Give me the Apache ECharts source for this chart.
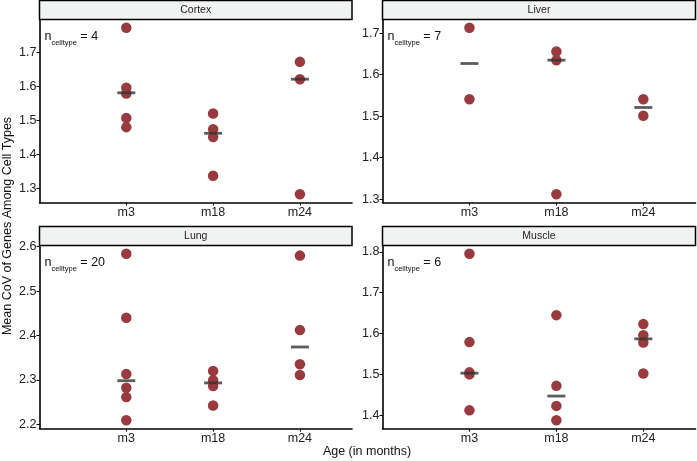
<!DOCTYPE html>
<html>
<head>
<meta charset="utf-8">
<script src="https://cdn.jsdelivr.net/npm/echarts@6/dist/echarts.min.js"></script>
<style>
  html, body { margin: 0; padding: 0; background: #fff; }
  #chart { width: 697px; height: 461px; }
</style>
</head>
<body>
<div id="chart"></div>
<script>
// ages on the x axis
const categories = ['m3', 'm18', 'm24'];
const tissues = ['Cortex', 'Liver', 'Lung', 'Muscle'];
const nCelltype = [4, 7, 20, 6];

// per-age values (mean CoV) for each tissue
const cortexValues = [[1.773, 1.597, 1.580, 1.508, 1.481], [1.521, 1.475, 1.452, 1.338], [1.673, 1.622, 1.284]];
const liverValues = [[1.713, 1.541], [1.656, 1.635, 1.312], [1.541, 1.501]];
const lungValues = [[2.584, 2.440, 2.313, 2.282, 2.261, 2.209], [2.320, 2.299, 2.286, 2.242], [2.580, 2.412, 2.335, 2.311]];
const muscleValues = [[1.795, 1.579, 1.505, 1.500, 1.412], [1.645, 1.472, 1.423, 1.388], [1.623, 1.596, 1.578, 1.502]];

// horizontal bars (median per age)
const cortexMedian = [1.582, 1.463, 1.622];
const liverMedian = [1.627, 1.635, 1.521];
const lungMedian = [2.298, 2.293, 2.374];
const muscleMedian = [1.503, 1.447, 1.587];

// y tick labels per panel
const cortexTicks = [1.3, 1.4, 1.5, 1.6, 1.7];
const liverTicks = [1.3, 1.4, 1.5, 1.6, 1.7];
const lungTicks = [2.2, 2.3, 2.4, 2.5, 2.6];
const muscleTicks = [1.4, 1.5, 1.6, 1.7, 1.8];

const panelValues = [cortexValues, liverValues, lungValues, muscleValues];
const panelMedians = [cortexMedian, liverMedian, lungMedian, muscleMedian];
const panelTicks = [cortexTicks, liverTicks, lungTicks, muscleTicks];

const pointColor = '#983a3e';
const font = '"Liberation Sans", Arial, sans-serif';

const grids = [
  { left: 39.5, top: 19.5, width: 312.5, height: 183 },
  { left: 382.5, top: 19.5, width: 313, height: 183 },
  { left: 39.5, top: 245.5, width: 312.5, height: 183 },
  { left: 382.5, top: 245.5, width: 313, height: 183 }
];

const myChart = echarts.init(document.getElementById('chart'));

const xAxes = [], yAxes = [], series = [], graphics = [];

grids.forEach((g, i) => {
  const vals = panelValues[i];
  const all = vals.flat().concat(panelMedians[i]);
  const lo = Math.min(...all), hi = Math.max(...all);
  const pad = (hi - lo) * 0.05;

  xAxes.push({
    type: 'value', gridIndex: i, min: 0, max: 3.6,
    axisLine: { lineStyle: { color: '#000', width: 1.6 } },
    axisTick: { customValues: [1, 2, 3], length: 3, lineStyle: { color: '#000', width: 1 } },
    axisLabel: {
      customValues: [1, 2, 3], margin: 4, color: '#222', fontSize: 12.5, fontFamily: font,
      formatter: (v) => categories[Math.round(v) - 1] || ''
    },
    splitLine: { show: false }
  });
  yAxes.push({
    type: 'value', gridIndex: i, min: lo - pad, max: hi + pad,
    axisLine: { show: true, lineStyle: { color: '#000', width: 1.6 } },
    axisTick: { show: true, customValues: panelTicks[i], length: 3, lineStyle: { color: '#000', width: 1 } },
    axisLabel: {
      customValues: panelTicks[i], margin: 3, color: '#222', fontSize: 12.5, fontFamily: font,
      formatter: (v) => v.toFixed(1)
    },
    splitLine: { show: false }
  });

  const pts = [];
  vals.forEach((arr, k) => arr.forEach((v) => pts.push([k + 1, v])));
  series.push({
    type: 'scatter', xAxisIndex: i, yAxisIndex: i, data: pts,
    symbolSize: 10.5, itemStyle: { color: pointColor, opacity: 1 }, z: 2, silent: true
  });
  series.push({
    type: 'scatter', xAxisIndex: i, yAxisIndex: i,
    data: panelMedians[i].map((v, k) => [k + 1, v]),
    symbol: 'rect', symbolSize: [18, 2.8], itemStyle: { color: '#333' }, z: 3, silent: true
  });

  // facet strip
  const stripTop = g.top - 19;
  graphics.push({
    type: 'rect', shape: { x: g.left, y: stripTop, width: g.width, height: 19 },
    style: { fill: '#f1f2f2', stroke: '#000', lineWidth: 1.5 }, z: 10
  });
  graphics.push({
    type: 'text', x: g.left + g.width / 2, y: stripTop + 10,
    style: { text: tissues[i], fontSize: 10.5, fontFamily: font, fill: '#222', align: 'center', verticalAlign: 'middle' },
    z: 11
  });
  // n celltype label
  graphics.push({
    type: 'text', x: g.left + 5, y: g.top + 17,
    style: {
      text: '{a|n}{b|celltype}{a| = ' + nCelltype[i] + '}',
      verticalAlign: 'middle',
      rich: {
        a: { fontSize: 12.5, fontFamily: font, fill: '#111', lineHeight: 14, verticalAlign: 'bottom' },
        b: { fontSize: 7.5, fontFamily: font, fill: '#111', lineHeight: 9, verticalAlign: 'bottom', padding: [0, 0, -3, 0] }
      }
    },
    z: 11
  });
});

graphics.push({
  type: 'text', x: 367, y: 452,
  style: { text: 'Age (in months)', fontSize: 12.5, fontFamily: font, fill: '#111', align: 'center', verticalAlign: 'middle' }
});
graphics.push({
  type: 'text', x: 8, y: 226, rotation: Math.PI / 2,
  style: { text: 'Mean CoV of Genes Among Cell Types', fontSize: 12.5, fontFamily: font, fill: '#111', align: 'center', verticalAlign: 'middle' }
});

const option = {
  animation: false,
  grid: grids,
  xAxis: xAxes,
  yAxis: yAxes,
  series: series,
  graphic: graphics
};

myChart.setOption(option);
window.addEventListener('resize', () => myChart.resize());
</script>
</body>
</html>
